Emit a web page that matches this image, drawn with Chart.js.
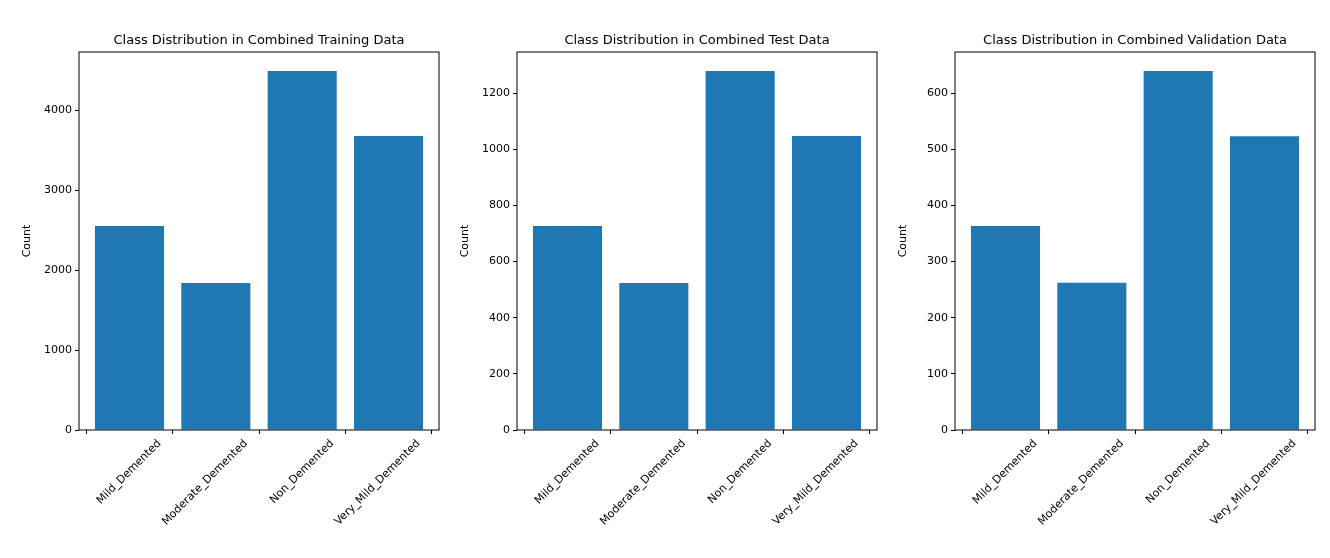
<!DOCTYPE html>
<html><head><meta charset="utf-8">
<script src="https://cdn.jsdelivr.net/npm/chart.js@4/dist/chart.umd.min.js"></script>
<style>
body{margin:0;background:#fff;width:1330px;height:558px;position:relative;overflow:hidden}
.p{position:absolute;top:0;width:430px;height:558px}
</style></head><body>
<div class="p" style="left:19px"><canvas id="c0"></canvas></div>
<div class="p" style="left:457px"><canvas id="c1"></canvas></div>
<div class="p" style="left:895px"><canvas id="c2"></canvas></div>
<script>
const categories = ["Mild_Demented", "Moderate_Demented", "Non_Demented", "Very_Mild_Demented"];
const trainCounts = [2550, 1837, 4487, 3675];
const testCounts = [726, 523, 1278, 1047];
const valCounts = [363, 262, 639, 523];
const titles = ["Class Distribution in Combined Training Data", "Class Distribution in Combined Test Data", "Class Distribution in Combined Validation Data"];
const yMax = [4725, 1346, 673];
const ySteps = [1000, 200, 100];

const font = "'DejaVu Sans', sans-serif";
Chart.defaults.font.family = font;
Chart.defaults.color = '#000';

const frame = {
  id: 'frame',
  afterDraw(chart) {
    const a = chart.chartArea, c = chart.ctx;
    c.save();
    c.strokeStyle = '#000'; c.lineWidth = 1;
    c.strokeRect(a.left, a.top, a.right - a.left, a.bottom - a.top);
    c.font = "13px " + font; c.textAlign = 'center'; c.textBaseline = 'bottom';
    c.fillText(chart.options.plugins.myTitle, (a.left + a.right) / 2, a.top - 5);
    c.restore();
  }
};

[trainCounts, testCounts, valCounts].forEach(function(vals, i) {
  new Chart(document.getElementById('c' + i), {
    type: 'bar',
    data: {
      datasets: [{
        data: vals.map((v, k) => ({x: k, y: v})),
        backgroundColor: '#1f77b4',
        categoryPercentage: 1,
        barPercentage: 0.8
      }]
    },
    plugins: [frame],
    options: {
      animation: false,
      responsive: true,
      maintainAspectRatio: false,
      layout: {padding: {top: 52, right: 10}},
      plugins: {legend: {display: false}, tooltip: {enabled: false}, myTitle: titles[i]},
      scales: {
        x: {
          type: 'linear', min: -0.585, max: 3.585, offset: false,
          grid: {drawOnChartArea: false, drawTicks: true, tickLength: 4, color: '#000'},
          border: {display: false},
          afterBuildTicks(s) { s.ticks = categories.map((c, k) => ({value: k})); },
          afterFit(s) { s.height = 128; },
          ticks: {
            callback: (v) => categories[v],
            minRotation: 45, maxRotation: 45, autoSkip: false,
            labelOffset: 30,
            font: {size: 11}, color: '#000'
          }
        },
        y: {
          min: 0, max: yMax[i],
          grid: {drawOnChartArea: false, drawTicks: true, tickLength: 4, color: '#000'},
          border: {display: false},
          afterBuildTicks(s) {
            const t = [];
            for (let v = 0; v <= yMax[i]; v += ySteps[i]) t.push({value: v});
            s.ticks = t;
          },
          afterFit(s) { s.width = 60; },
          ticks: {callback: (v) => String(v), font: {size: 11}, color: '#000'},
          title: {display: true, text: 'Count', font: {size: 11}, color: '#000', padding: 2}
        }
      }
    }
  });
});
</script>
</body></html>
